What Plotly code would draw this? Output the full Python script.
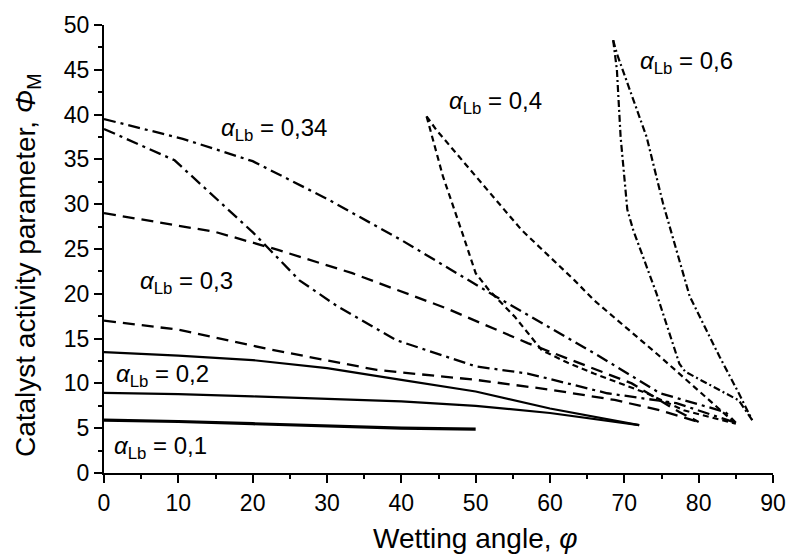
import plotly.graph_objects as go

# ---- data ----
phi_01 = [0, 10, 20, 30, 40, 50]
M_01 = [5.9, 5.75, 5.5, 5.25, 5.0, 4.9]

phi_02a = [0, 10, 20, 30, 40, 50, 60, 68.7, 72]
M_02a = [13.5, 13.1, 12.6, 11.7, 10.4, 9.1, 7.2, 5.9, 5.35]
phi_02b = [0, 10, 20, 30, 40, 50, 60, 72]
M_02b = [8.95, 8.8, 8.55, 8.3, 8.0, 7.5, 6.7, 5.35]

phi_03a = [0, 15, 23.4, 33.4, 46, 57, 71, 77.4, 80]
M_03a = [29, 26.9, 24.9, 22.3, 18.4, 14.5, 10.0, 6.8, 5.7]
phi_03b = [0, 10, 21.7, 36.7, 50, 60, 68.7, 74.8, 80]
M_03b = [17.0, 16.0, 13.9, 11.5, 10.4, 9.3, 8.15, 7.0, 5.7]

phi_034a = [0, 10.6, 20, 30, 40, 52.7, 65.9, 74.8, 83.6, 85]
M_034a = [39.5, 37.3, 34.8, 30.6, 26.0, 19.7, 13.4, 8.9, 6.8, 5.6]
phi_034b = [0, 9.5, 20.1, 26.3, 31.4, 39.4, 50, 57, 67.7, 77, 85]
M_034b = [38.4, 34.9, 26.8, 21.5, 18.6, 14.8, 11.9, 11.1, 8.9, 7.8, 5.6]

phi_04a = [43.4, 45.6, 48.2, 50, 51.8, 55.3, 58.9, 62.4, 65.9, 73, 78, 85]
M_04a = [39.8, 33.1, 26.8, 22.3, 20.4, 17.4, 13.7, 12.3, 11.1, 8.9, 7.0, 5.5]
phi_04b = [43.4, 44.7, 52.7, 56.2, 63.3, 65.9, 74.8, 79.4, 85]
M_04b = [39.8, 38.3, 30.5, 27.1, 21.5, 19.3, 13.0, 9.6, 5.5]

phi_06a = [68.5, 69, 69.5, 70.4, 71.2, 74.3, 77.4, 78.2, 85.4, 87.2]
M_06a = [48.3, 45, 37.5, 29.4, 27.1, 20.1, 12.2, 11.3, 8.1, 5.9]
phi_06b = [68.5, 69, 73, 75.2, 78.8, 82.8, 85.4, 87.2]
M_06b = [48.3, 46.8, 37.5, 30.1, 19.7, 13.0, 8.9, 5.9]

labels = ["0,1", "0,2", "0,3", "0,34", "0,4", "0,6"]
label_x = [1.1, 1.3, 4.6, 15.5, 46.2, 71.9]
label_y = [2.8, 10.9, 21.3, 38.3, 41.3, 45.8]

x_ticks = list(range(0, 91, 10))
y_ticks = list(range(0, 51, 5))

FONT = "Liberation Sans"

series = [
    (phi_01, M_01, "solid", 3.2),
    (phi_02a, M_02a, "solid", 2.2),
    (phi_02b, M_02b, "solid", 2.2),
    (phi_03a, M_03a, "12px,7px", 2.3),
    (phi_03b, M_03b, "12px,7px", 2.3),
    (phi_034a, M_034a, "12px,5px,3px,5px", 2.3),
    (phi_034b, M_034b, "12px,5px,3px,5px", 2.3),
    (phi_04a, M_04a, "6px,4px", 2.2),
    (phi_04b, M_04b, "6px,4px", 2.2),
    (phi_06a, M_06a, "7px,3px,2px,3px", 2.2),
    (phi_06b, M_06b, "7px,3px,2px,3px", 2.2),
]

fig = go.Figure()
for xs, ys, dash, w in series:
    fig.add_trace(go.Scatter(x=xs, y=ys, mode="lines",
                             line=dict(color="black", width=w, dash=dash),
                             showlegend=False, hoverinfo="skip"))

for t, lx, ly in zip(labels, label_x, label_y):
    fig.add_annotation(x=lx, y=ly, xref="x", yref="y", xanchor="left", yanchor="middle",
                       text="<i>α</i><sub>Lb</sub> = " + t, showarrow=False,
                       font=dict(family=FONT, size=24, color="black"))

fig.add_annotation(x=0.5, y=-0.147, xref="paper", yref="paper", xanchor="center", yanchor="middle",
                   text="Wetting angle, <i>φ</i>", showarrow=False,
                   font=dict(family=FONT, size=28, color="black"), xshift=37)
fig.add_annotation(x=-0.115, y=0.5, xref="paper", yref="paper", xanchor="center", yanchor="middle",
                   text="Catalyst activity parameter, <i>Φ</i><sub>M</sub>", showarrow=False,
                   textangle=-90, font=dict(family=FONT, size=28, color="black"), yshift=-16)

fig.update_layout(
    width=798, height=557,
    margin=dict(l=104, r=17, t=25, b=84),
    paper_bgcolor="white", plot_bgcolor="white",
    font=dict(family=FONT, size=23, color="black"),
)
fig.update_xaxes(range=[0, 90], tickvals=x_ticks, ticks="outside", ticklen=8, tickwidth=2,
                 showline=True, linecolor="black", linewidth=2, showgrid=False, zeroline=False,
                 minor=dict(dtick=5, tick0=0, ticks="outside", ticklen=4, tickwidth=2, tickcolor="black"),
                 tickcolor="black")
fig.update_yaxes(range=[0, 50], tickvals=y_ticks, ticks="outside", ticklen=8, tickwidth=2,
                 showline=True, linecolor="black", linewidth=2, showgrid=False, zeroline=False,
                 minor=dict(dtick=2.5, tick0=0, ticks="outside", ticklen=4, tickwidth=2, tickcolor="black"),
                 tickcolor="black")

fig.write_html("out.html", config={"displayModeBar": False},
               post_script="document.body.style.margin='0';document.body.style.overflow='hidden';")
